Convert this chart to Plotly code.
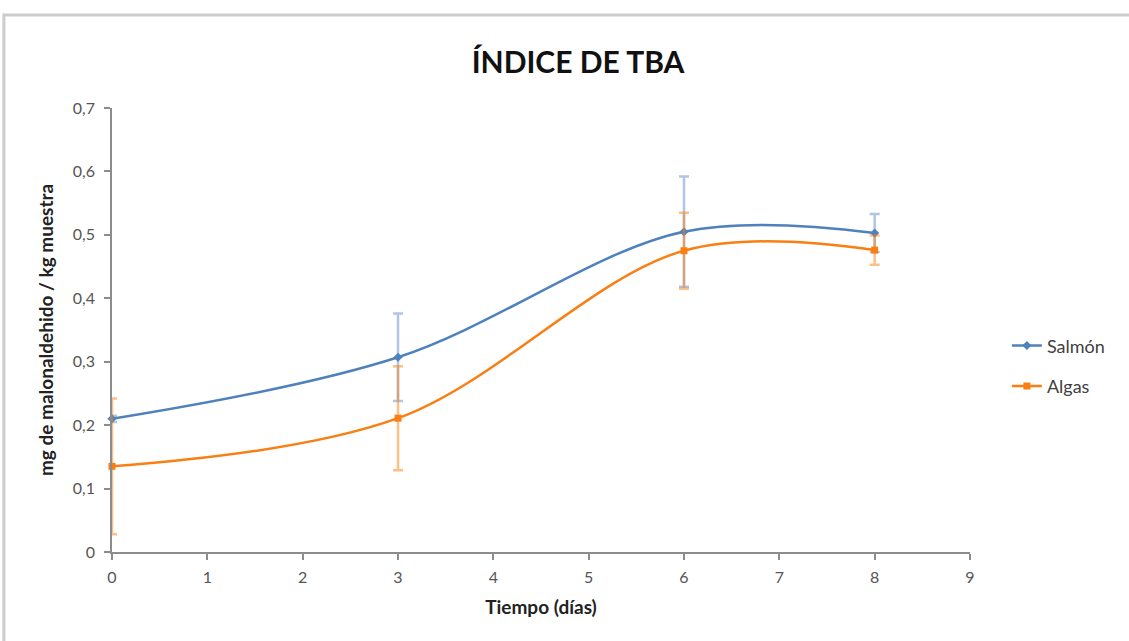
import plotly.graph_objects as go

days = [0, 3, 6, 8]
salmon = [0.210, 0.307, 0.505, 0.503]
salmon_err = [0.005, 0.069, 0.087, 0.030]
algas = [0.135, 0.211, 0.475, 0.476]
algas_err = [0.107, 0.082, 0.060, 0.023]

x_ticks = [0, 1, 2, 3, 4, 5, 6, 7, 8, 9]
y_ticks = [0, 0.1, 0.2, 0.3, 0.4, 0.5, 0.6, 0.7]
y_ticktext = ["0", "0,1", "0,2", "0,3", "0,4", "0,5", "0,6", "0,7"]

BLUE = "#4F81BD"
ORANGE = "#F97F12"
FONT = "Lato, 'Open Sans', sans-serif"

fig = go.Figure()
fig.add_trace(go.Scatter(
    x=days, y=salmon, name="Salmón", mode="lines+markers", legendgroup="s",
    line=dict(color=BLUE, width=2.5, shape="spline", smoothing=1),
    marker=dict(symbol="diamond", size=7, color=BLUE),
    error_y=dict(type="data", array=salmon_err, visible=True,
                 color="rgba(79,129,189,0.45)", thickness=2.5, width=5),
    cliponaxis=False,
))
fig.add_trace(go.Scatter(
    x=days, y=algas, name="Algas", mode="lines+markers", legendgroup="a",
    line=dict(color=ORANGE, width=2.5, shape="spline", smoothing=1),
    marker=dict(symbol="square", size=7, color=ORANGE),
    error_y=dict(type="data", array=algas_err, visible=True,
                 color="rgba(249,127,18,0.5)", thickness=2.5, width=5),
    cliponaxis=False,
))

fig.update_layout(
    width=1129, height=641,
    margin=dict(l=112, r=159, t=108, b=89),
    paper_bgcolor="white", plot_bgcolor="white",
    font=dict(family=FONT, color="#444444", size=16),
    title=dict(text="<b>ÍNDICE DE TBA</b>", x=0.512, xanchor="center",
               y=0.903, yanchor="middle",
               font=dict(size=30, color="#111111", family=FONT)),
    showlegend=True,
    legend=dict(x=1.043, xanchor="left", y=0.506, yanchor="top",
                traceorder="grouped",
                font=dict(size=18, color="#404040"), tracegroupgap=14,
                itemwidth=30, bgcolor="rgba(0,0,0,0)"),
    shapes=[dict(type="rect", xref="paper", yref="paper",
                 x0=-0.126, x1=1.3, y0=-0.4, y1=1.2095,
                 line=dict(color="#CCCCCC", width=3), fillcolor="rgba(0,0,0,0)", layer="below")],
)

fig.update_xaxes(
    range=[0, 9], tickvals=x_ticks, ticktext=[str(t) for t in x_ticks],
    showgrid=False, zeroline=False, showline=True, linecolor="#8C8C8C", linewidth=1.5,
    ticks="outside", ticklen=6, tickcolor="#8C8C8C", tickwidth=1.5,
    ticklabelstandoff=4,
    tickfont=dict(size=16, color="#555555"),
    title=dict(text="<b>Tiempo (días)</b>", font=dict(size=19, color="#222222"), standoff=16),
)
fig.update_yaxes(
    range=[0, 0.7], tickvals=y_ticks, ticktext=y_ticktext,
    showgrid=False, zeroline=False, showline=True, linecolor="#8C8C8C", linewidth=1.5,
    ticks="outside", ticklen=6, tickcolor="#8C8C8C", tickwidth=1.5,
    ticklabelstandoff=6,
    tickfont=dict(size=16, color="#555555"),
    title=dict(text="<b>mg de malonaldehido / kg muestra</b>", font=dict(size=19, color="#222222"), standoff=14),
)

fig.write_html("out.html", config={"displayModeBar": False},
               post_script="document.body.style.margin='0px';")
